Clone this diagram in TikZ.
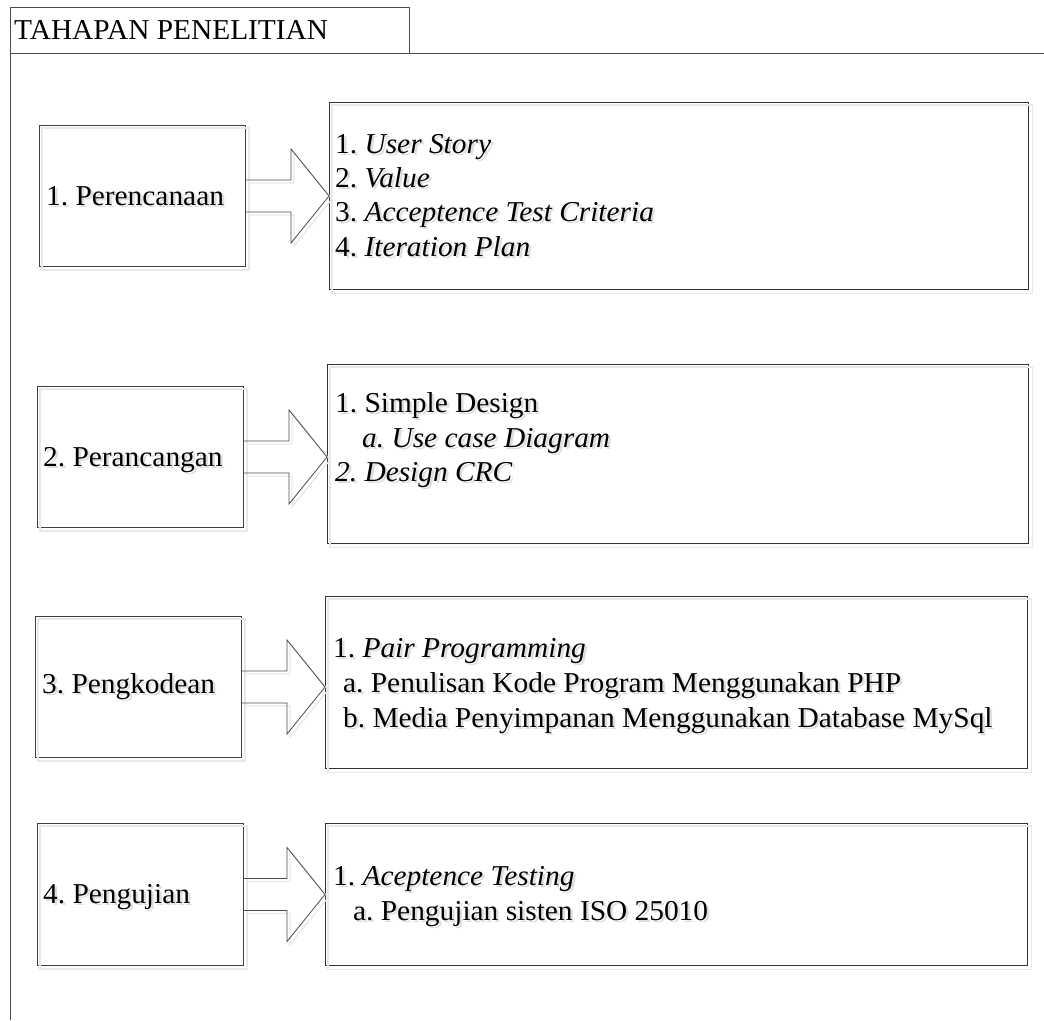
\documentclass[tikz,border=0pt]{standalone}
\usepackage{fontspec}
\setmainfont{Liberation Serif}[FakeStretch=1.02]
\usetikzlibrary{calc}

% text with a faint offset copy behind it
\newcommand\shadowed[1]{\makebox[0pt][l]{\hspace{2.5pt}\raisebox{-2.5pt}{\textcolor{black!13}{#1}}}#1}

\tikzset{
  frameline/.style={draw=black!70, line width=1pt},
  stagebox/.style={rectangle, draw=black!75, line width=1pt, inner sep=0pt, anchor=north west},
  listbox/.style={rectangle, draw=black!80, line width=1.4pt, inner sep=0pt, anchor=north west},
  shadeline/.style={draw=black!9, line width=1.3pt},
  label/.style={font=\fontsize{28.8}{34}\selectfont\frenchspacing, anchor=base west, inner sep=0pt, text=black},
  blockarrowline/.style={draw=black!70, line width=0.8pt, line join=miter},
}

% open block arrow from the right edge of #1 to the left edge of #2
\newcommand\blockarrow[2]{%
  \foreach \sty/\off in {shadeline/3pt, blockarrowline/0pt} {
    \draw[\sty, transform canvas={shift={(\off,-\off)}}]
      ($(#1.east)+(0,-16)$) -- ($(#2.west |- #1.east)+(-38,-16)$)
      -- ($(#2.west |- #1.east)+(-38,-47)$) -- (#2.west |- #1.east)
      -- ($(#2.west |- #1.east)+(-38,47)$) -- ($(#2.west |- #1.east)+(-38,16)$)
      -- ($(#1.east)+(0,16)$);
  }%
}

% faint offset outline of a box
\newcommand\boxshade[1]{%
  \draw[shadeline] ($(#1.north west)+(3,3)$) rectangle ($(#1.south east)+(3,3)$);%
}

\begin{document}
\begin{tikzpicture}[x=1pt, y=-1pt]
\useasboundingbox (0,0) rectangle (1044,1020);

% heading tab and page frame
\draw[frameline] (10,1020) -- (10,7) -- (409,7) -- (409,53);
\draw[frameline] (10,53) -- (1044,53);
\node[label] (title) at (14,39) {TAHAPAN PENELITIAN};

% stage boxes
\node[stagebox, minimum width=206, minimum height=141] (L1) at (39,125) {};
\node[stagebox, minimum width=206, minimum height=141] (L2) at (37,386) {};
\node[stagebox, minimum width=206, minimum height=141] (L3) at (35,616) {};
\node[stagebox, minimum width=206, minimum height=142] (L4) at (37,823) {};

% detail boxes
\node[listbox, minimum width=699, minimum height=187] (R1) at (329,102) {};
\node[listbox, minimum width=701, minimum height=179] (R2) at (327,364) {};
\node[listbox, minimum width=702, minimum height=172] (R3) at (325,596) {};
\node[listbox, minimum width=702, minimum height=142] (R4) at (325,823) {};

\foreach \b in {L1,L2,L3,L4,R1,R2,R3,R4} { \boxshade{\b} }

% stage names
\node[label] (n1) at (46,205) {\shadowed{1. Perencanaan}};
\node[label] (n2) at (43,466) {\shadowed{2. Perancangan}};
\node[label] (n3) at (42,693) {\shadowed{3. Pengkodean}};
\node[label] (n4) at (43,903) {\shadowed{4. Pengujian}};

% arrows
\blockarrow{L1}{R1}
\blockarrow{L2}{R2}
\blockarrow{L3}{R3}
\blockarrow{L4}{R4}

% planning
\node[label] (p1) at (335,153) {\shadowed{1. \textit{User Story}}};
\node[label] (p2) at (335,187) {\shadowed{2. \textit{Value}}};
\node[label] (p3) at (335,221) {\shadowed{3. \textit{Acceptence Test Criteria}}};
\node[label] (p4) at (335,256) {\shadowed{4. \textit{Iteration Plan}}};

% design
\node[label] (d1) at (335,412) {\shadowed{1. Simple Design}};
\node[label] (d2) at (362,447) {\shadowed{\textit{a. Use case Diagram}}};
\node[label] (d3) at (335,481) {\shadowed{\textit{2. Design CRC}}};

% coding
\node[label] (c1) at (333,657) {\shadowed{1. \textit{Pair Programming}}};
\node[label] (c2) at (343,692) {\shadowed{a. Penulisan Kode Program Menggunakan PHP}};
\node[label] (c3) at (343,727) {\shadowed{b. Media Penyimpanan Menggunakan Database MySql}};

% testing
\node[label] (s1) at (333,885) {\shadowed{1. \textit{Aceptence Testing}}};
\node[label] (s2) at (353,920) {\shadowed{a. Pengujian sisten ISO 25010}};
\end{tikzpicture}
\end{document}
